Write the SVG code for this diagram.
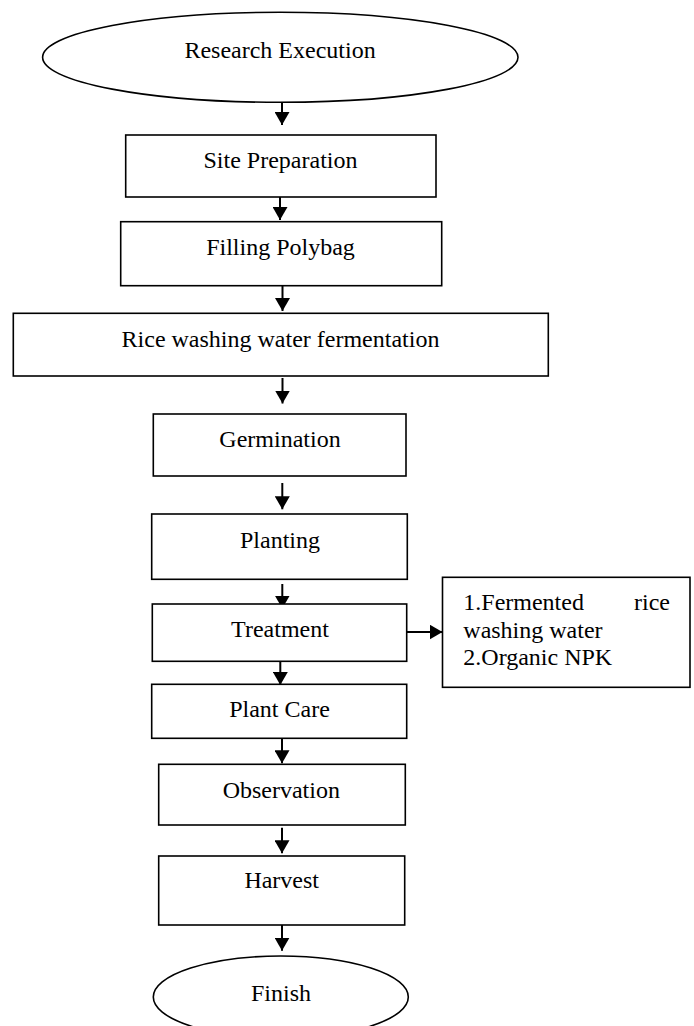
<svg xmlns="http://www.w3.org/2000/svg" width="694" height="1026" viewBox="0 0 694 1026">
<style>
.box{fill:#fff;stroke:#000;stroke-width:1.6}
.t{font-family:"Liberation Serif","Times New Roman",serif;font-size:24px;fill:#000}
.c{text-anchor:middle}
.ln{stroke:#000;stroke-width:2;fill:none}
</style>
<defs>
<marker id="ah" viewBox="0 0 13 15" refX="13" refY="7.5" markerWidth="13" markerHeight="15" markerUnits="userSpaceOnUse" orient="auto">
<path d="M0,0 L13,7.5 L0,15 z" fill="#000"/>
</marker>
</defs>
<rect width="694" height="1026" fill="#fff"/>
<g id="connectors">
<line class="ln" x1="282" y1="102" x2="282" y2="125" marker-end="url(#ah)"/>
<line class="ln" x1="280" y1="197" x2="280" y2="220" marker-end="url(#ah)"/>
<line class="ln" x1="282.5" y1="286" x2="282.5" y2="311" marker-end="url(#ah)"/>
<line class="ln" x1="282.5" y1="378" x2="282.5" y2="403.5" marker-end="url(#ah)"/>
<line class="ln" x1="282.3" y1="483" x2="282.3" y2="509.3" marker-end="url(#ah)"/>
<line class="ln" x1="282.3" y1="584" x2="282.3" y2="608.5" marker-end="url(#ah)"/>
<line class="ln" x1="280.3" y1="661" x2="280.3" y2="685" marker-end="url(#ah)"/>
<line class="ln" x1="282" y1="738" x2="282" y2="763.3" marker-end="url(#ah)"/>
<line class="ln" x1="282" y1="827.7" x2="282" y2="853.3" marker-end="url(#ah)"/>
<line class="ln" x1="282" y1="925" x2="282" y2="950.7" marker-end="url(#ah)"/>
<line class="ln" x1="406.7" y1="632" x2="442.5" y2="632" marker-end="url(#ah)"/>
</g>
<g id="n-start">
<ellipse class="box" cx="280.3" cy="57.3" rx="237.7" ry="45"/>
<text class="t c" x="280" y="58.3">Research Execution</text>
</g>
<g id="n-site">
<rect class="box" x="125.7" y="135" width="310.3" height="62"/>
<text class="t c" x="280.5" y="168">Site Preparation</text>
</g>
<g id="n-fill">
<rect class="box" x="120.7" y="221.7" width="321" height="64"/>
<text class="t c" x="280.5" y="255">Filling Polybag</text>
</g>
<g id="n-rice">
<rect class="box" x="13.3" y="313.3" width="535" height="62.7"/>
<text class="t c" x="280.5" y="346.7">Rice washing water fermentation</text>
</g>
<g id="n-germ">
<rect class="box" x="153.3" y="414" width="252.7" height="62"/>
<text class="t c" x="280" y="446.7">Germination</text>
</g>
<g id="n-plant">
<rect class="box" x="151.7" y="514" width="255.6" height="65.3"/>
<text class="t c" x="280" y="548.3">Planting</text>
</g>
<g id="n-treat">
<rect class="box" x="152.3" y="604" width="254.4" height="57.3"/>
<text class="t c" x="280" y="636.7">Treatment</text>
</g>
<g id="n-list">
<rect class="box" x="442.5" y="577.3" width="247.5" height="110"/>
<text class="t" x="463.3" y="610">1.Fermented</text>
<text class="t" x="670" y="610" text-anchor="end">rice</text>
<text class="t" x="463.3" y="637.5">washing water</text>
<text class="t" x="463.3" y="665">2.Organic NPK</text>
</g>
<g id="n-care">
<rect class="box" x="151.7" y="684.3" width="255" height="54"/>
<text class="t c" x="279.5" y="716.7">Plant Care</text>
</g>
<g id="n-obs">
<rect class="box" x="158.7" y="764.3" width="246.6" height="60.7"/>
<text class="t c" x="281.3" y="798.3">Observation</text>
</g>
<g id="n-harv">
<rect class="box" x="158.7" y="856" width="246" height="69"/>
<text class="t c" x="281.7" y="888.3">Harvest</text>
</g>
<g id="n-finish">
<ellipse class="box" cx="280.8" cy="997" rx="127.5" ry="41"/>
<text class="t c" x="281" y="1001">Finish</text>
</g>
</svg>
